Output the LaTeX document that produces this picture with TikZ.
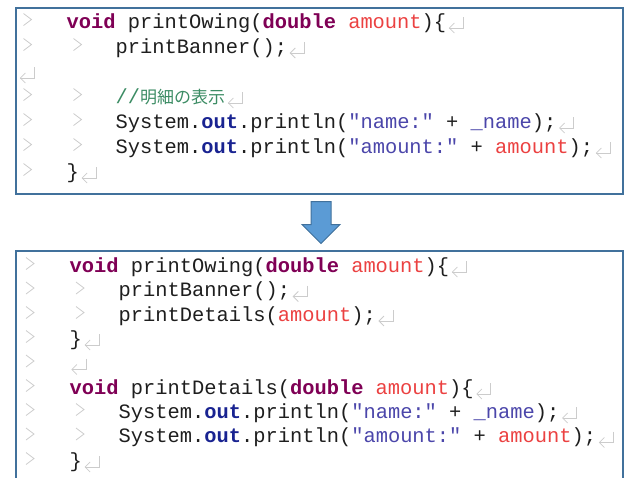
\documentclass[tikz,border=0pt]{standalone}
\usepackage{fontspec}
\setmonofont{Liberation Mono}
\newfontfamily\jpfont{Noto Sans CJK JP}
\usepackage{xcolor}
\usetikzlibrary{arrows.meta, positioning, calc}

\definecolor{kwcol}{RGB}{127,0,85}
\definecolor{varcol}{RGB}{235,65,65}
\definecolor{fldcol}{RGB}{25,35,145}
\definecolor{strcol}{RGB}{75,70,170}
\definecolor{cmtcol}{RGB}{60,140,100}
\definecolor{plaincol}{RGB}{30,30,30}
\definecolor{boxline}{RGB}{65,113,156}
\definecolor{boxfill}{RGB}{91,155,213}

% java syntax colouring
\newcommand{\kw}[1]{\textcolor{kwcol}{\textbf{#1}}}
\newcommand{\vname}[1]{\textcolor{varcol}{#1}}
\newcommand{\fld}[1]{\textcolor{fldcol}{\textbf{#1}}}
\newcommand{\strlit}[1]{\textcolor{strcol}{#1}}

\begin{document}
\begin{tikzpicture}[
  x=1pt, y=-1pt,
  code/.style={anchor=base west, inner sep=0pt, text=plaincol,
    font=\fontsize{20.4}{24}\selectfont\ttfamily},
  codebox/.style={draw=boxline, line width=2pt, rectangle, inner sep=0pt, anchor=north west},
  markline/.style={draw=black!20, line width=0.8pt},
  tabmark/.pic={\draw[markline] (-4,-14.5) -- (4,-8.5) -- (-4,-2.5);},
  retmark/.pic={\draw[markline] (17,-11) -- (17,0) -- (3,0);
                \draw[markline] (8,-5) -- (3,0) -- (8,5);},
  blockarrow/.style={fill=boxfill, draw=boxline, line width=1pt, line join=miter}
]
\useasboundingbox (0,0) rectangle (624,477);
\clip (0,0) rectangle (624,477);

\node[codebox, minimum width=607pt, minimum height=186pt] (before) at (15,7) {};
\node[codebox, minimum width=607pt, minimum height=250pt] (after) at (15,250) {};

% arrow between the two listings
\coordinate (mid) at ($(before.south)!0.5!(after.north)+(1.5,0)$);
\begin{scope}[shift={(mid)}]
  \draw[blockarrow] (-10,-21) -- (10,-21) -- (10,2) -- (19,2) -- (0,21)
    -- (-19,2) -- (-10,2) -- cycle;
\end{scope}

% original method
\node[code] (t1) at (66.5,28) {\kw{void} printOwing(\kw{double} \vname{amount})\{};
\node[code] (t2) at (115.5,53) {printBanner();};
\node[code] (t3) at (16,78) {};
\node[code] (t4) at (115.5,103) {\textcolor{cmtcol}{//{\jpfont\fontsize{17}{20}\selectfont 明細の表示}}};
\node[code] (t5) at (115.5,128) {System.\fld{out}.println(\strlit{"name:"} + \strlit{\_name});};
\node[code] (t6) at (115.5,153) {System.\fld{out}.println(\strlit{"amount:"} + \vname{amount});};
\node[code] (t7) at (66.5,178) {\}};

\path (27.5,28) pic{tabmark} (27.5,53) pic{tabmark} (27.5,103) pic{tabmark}
      (27.5,128) pic{tabmark} (27.5,153) pic{tabmark} (27.5,178) pic{tabmark};
\path (77.5,53) pic{tabmark} (77.5,103) pic{tabmark} (77.5,128) pic{tabmark}
      (77.5,153) pic{tabmark};
\path (t1.base east) pic{retmark} (t2.base east) pic{retmark} (t3.base east) pic{retmark}
      (t4.base east) pic{retmark} (t5.base east) pic{retmark} (t6.base east) pic{retmark}
      (t7.base east) pic{retmark};

% after extract method
\node[code] (b1) at (69.5,272) {\kw{void} printOwing(\kw{double} \vname{amount})\{};
\node[code] (b2) at (118.5,296.5) {printBanner();};
\node[code] (b3) at (118.5,321) {printDetails(\vname{amount});};
\node[code] (b4) at (69.5,345) {\}};
\node[code] (b5) at (67.5,369.5) {};
\node[code] (b6) at (69.5,394) {\kw{void} printDetails(\kw{double} \vname{amount})\{};
\node[code] (b7) at (118.5,418) {System.\fld{out}.println(\strlit{"name:"} + \strlit{\_name});};
\node[code] (b8) at (118.5,442.5) {System.\fld{out}.println(\strlit{"amount:"} + \vname{amount});};
\node[code] (b9) at (69.5,467) {\}};

\path (30,272) pic{tabmark} (30,296.5) pic{tabmark} (30,321) pic{tabmark}
      (30,345) pic{tabmark} (30,369.5) pic{tabmark} (30,394) pic{tabmark}
      (30,418) pic{tabmark} (30,442.5) pic{tabmark} (30,467) pic{tabmark};
\path (80,296.5) pic{tabmark} (80,321) pic{tabmark} (80,418) pic{tabmark}
      (80,442.5) pic{tabmark};
\path (b1.base east) pic{retmark} (b2.base east) pic{retmark} (b3.base east) pic{retmark}
      (b4.base east) pic{retmark} (b5.base east) pic{retmark} (b6.base east) pic{retmark}
      (b7.base east) pic{retmark} (b8.base east) pic{retmark} (b9.base east) pic{retmark};
\end{tikzpicture}
\end{document}
